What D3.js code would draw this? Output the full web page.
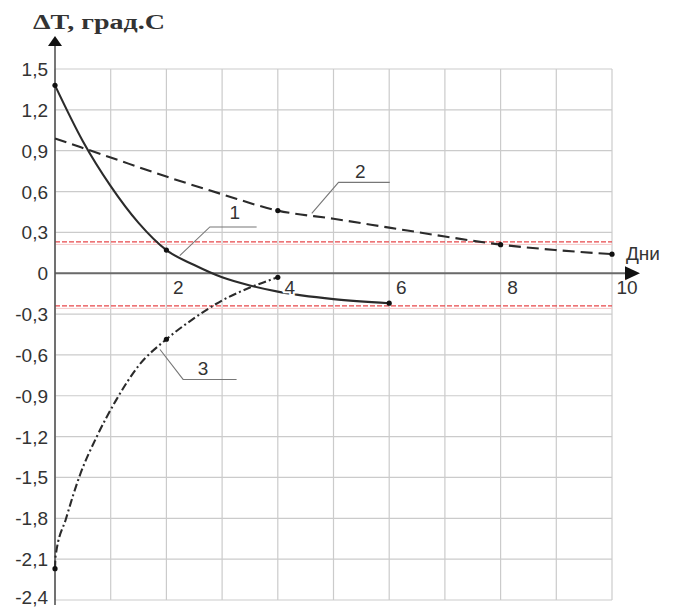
<!DOCTYPE html>
<html>
<head>
<meta charset="utf-8">
<script src="https://cdn.jsdelivr.net/npm/d3@7"></script>
<style>
  html, body { margin: 0; padding: 0; background: #fff; }
  svg text { font-family: "Liberation Sans", Arial, sans-serif; fill: #333; }
</style>
</head>
<body>
<svg id="chart" width="675" height="607"></svg>
<script>
// Temperature deviation over days, three curves
const yTicks = [-2.4, -2.1, -1.8, -1.5, -1.2, -0.9, -0.6, -0.3, 0, 0.3, 0.6, 0.9, 1.2, 1.5];
const xGrid = [0, 1, 2, 3, 4, 5, 6, 7, 8, 9, 10];
const xTickLabels = [2, 4, 6, 8, 10];

// Curve 1 (solid)
const c1x = [0, 0.5, 1, 1.5, 2, 2.5, 3, 3.5, 4, 5, 6];
const c1y = [1.38, 0.97, 0.64, 0.37, 0.17, 0.06, -0.03, -0.09, -0.135, -0.19, -0.22];
const c1marks = [0, 2, 6];

// Curve 2 (dashed)
const c2x = [0, 1, 2, 3, 4, 5, 6, 7, 8, 9, 10];
const c2y = [0.99, 0.85, 0.71, 0.58, 0.46, 0.40, 0.335, 0.27, 0.21, 0.17, 0.14];
const c2marks = [4, 8, 10];

// Curve 3 (dash-dot)
const c3x = [0, 0.01, 0.2, 0.45, 0.75, 1.1, 1.5, 2, 2.5, 3, 3.5, 4];
const c3y = [-2.17, -2.08, -1.8, -1.48, -1.2, -0.93, -0.68, -0.485, -0.33, -0.2, -0.105, -0.03];
const c3marks = [0, 2, 4];

// Tolerance band limits
const bandLevels = [0.23, -0.24];

const svg = d3.select("#chart");
const x = d3.scaleLinear().domain([0, 10]).range([55, 612]);
const y = d3.scaleLinear().domain([-2.4, 1.5]).range([600, 69]);

// grid
const grid = svg.append("g");
grid.selectAll("line.v").data(xGrid).join("line")
  .attr("x1", d => x(d)).attr("x2", d => x(d))
  .attr("y1", y(1.5)).attr("y2", y(-2.4))
  .attr("stroke", "#cbcbcb").attr("stroke-width", 1.2);
grid.selectAll("line.h").data(yTicks).join("line")
  .attr("x1", x(0)).attr("x2", x(10))
  .attr("y1", d => y(d)).attr("y2", d => y(d))
  .attr("stroke", "#cbcbcb").attr("stroke-width", 1.2);

// band lines (red dashed with a soft pink line under them)
bandLevels.forEach(v => {
  svg.append("line").attr("x1", x(0)).attr("x2", x(10))
    .attr("y1", y(v) + 2.5).attr("y2", y(v) + 2.5)
    .attr("stroke", "#f6c8c8").attr("stroke-width", 1);
  svg.append("line").attr("x1", x(0)).attr("x2", x(10))
    .attr("y1", y(v)).attr("y2", y(v))
    .attr("stroke", "#e8474a").attr("stroke-width", 1.3)
    .attr("stroke-dasharray", "5,2");
});

// axes
svg.append("line").attr("x1", x(0)).attr("x2", 627)
  .attr("y1", y(0)).attr("y2", y(0))
  .attr("stroke", "#6a6a6a").attr("stroke-width", 2);
svg.append("path").attr("d", `M640,${y(0)} L625,${y(0) - 7} L625,${y(0) + 7} Z`).attr("fill", "#111");
svg.append("line").attr("x1", x(0)).attr("x2", x(0))
  .attr("y1", 605).attr("y2", 44)
  .attr("stroke", "#555").attr("stroke-width", 1.6);
svg.append("path").attr("d", `M${x(0)},36 L${x(0) - 7},46 L${x(0) + 7},46 Z`).attr("fill", "#111");

// y tick labels: comma decimals, plain hyphen minus
const fmt = d => d === 0 ? "0" : d3.format(".1f")(d).replace("−", "-").replace(".", ",");
const yAxis = d3.axisLeft(y).tickValues(yTicks).tickSize(0).tickPadding(7).tickFormat(fmt);
const yg = svg.append("g").attr("transform", `translate(${x(0)},0)`).call(yAxis);
yg.select(".domain").remove();
yg.selectAll("text").attr("font-size", 19).attr("fill", "#333")
  .attr("font-family", "Liberation Sans, Arial, sans-serif")
  .attr("dy", d => d === -2.4 ? "0.2em" : "0.34em");

// curves
const line = d3.line().x(d => x(d[0])).y(d => y(d[1])).curve(d3.curveMonotoneX);
const curves = [
  { xs: c1x, ys: c1y, dash: null, marks: c1marks },
  { xs: c2x, ys: c2y, dash: "12,6", marks: c2marks },
  { xs: c3x, ys: c3y, dash: "8,3,2,3", marks: c3marks }
];
curves.forEach(c => {
  const pts = c.xs.map((v, k) => [v, c.ys[k]]);
  svg.append("path").datum(pts)
    .attr("d", line)
    .attr("fill", "none").attr("stroke", "#2b2b2b")
    .attr("stroke-width", 2.1)
    .attr("stroke-dasharray", c.dash);
  svg.selectAll(null).data(pts.filter(p => c.marks.includes(p[0]))).join("circle")
    .attr("cx", d => x(d[0])).attr("cy", d => y(d[1])).attr("r", 2.6).attr("fill", "#111");
});

// x tick labels (white halo hides the curve behind them)
svg.selectAll("text.xt").data(xTickLabels).join("text")
  .attr("x", d => x(d) + (d === 10 ? 15 : 12)).attr("y", y(0) + 21)
  .attr("text-anchor", "middle").attr("font-size", 19)
  .attr("stroke", "#fff").attr("stroke-width", 4).attr("paint-order", "stroke")
  .text(d => d);

svg.append("text").attr("x", 626).attr("y", y(0) - 13)
  .attr("font-size", 19).text("Дни");

// title
svg.append("text").attr("x", 33).attr("y", 29)
  .attr("font-weight", "bold").attr("font-size", 20)
  .attr("textLength", 132).attr("lengthAdjust", "spacingAndGlyphs")
  .style("font-family", "'Liberation Serif', serif")
  .text("ΔT, град.С");

// curve labels with leader lines
const leaders = [
  { name: "1", pts: [[2.24, 0.13], [2.78, 0.34], [3.62, 0.34]], tx: 3.23, ty: 0.395 },
  { name: "2", pts: [[4.61, 0.44], [5.09, 0.667], [6.01, 0.667]], tx: 5.48, ty: 0.70 },
  { name: "3", pts: [[1.885, -0.56], [2.30, -0.78], [3.26, -0.78]], tx: 2.66, ty: -0.745 }
];
leaders.forEach(l => {
  svg.append("path")
    .attr("d", d3.line().x(d => x(d[0])).y(d => y(d[1]))(l.pts))
    .attr("fill", "none").attr("stroke", "#777").attr("stroke-width", 1.1);
  svg.append("text").attr("x", x(l.tx)).attr("y", y(l.ty))
    .attr("text-anchor", "middle").attr("font-size", 19).text(l.name);
});
</script>
</body>
</html>
